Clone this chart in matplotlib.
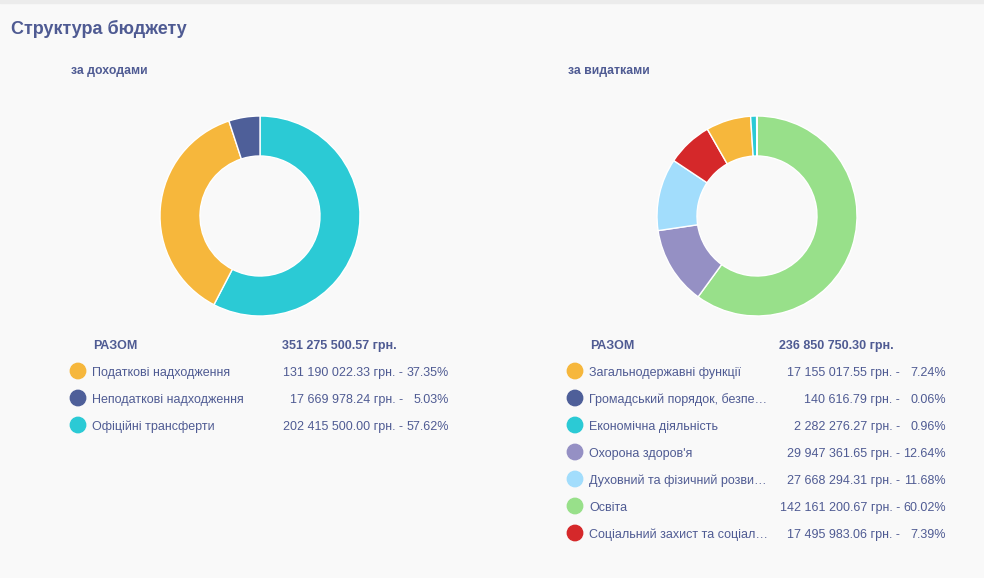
import matplotlib.pyplot as plt
from matplotlib.patches import Rectangle, Circle

# дані
income_labels = ["Податкові надходження", "Неподаткові надходження", "Офіційні трансферти"]
income_values = [131190022.33, 17669978.24, 202415500.00]
income_pct = [37.35, 5.03, 57.62]
income_colors = ["#f6b73c", "#4e5f99", "#2bcad5"]
income_total = "351 275 500.57 грн."

exp_labels = ["Загальнодержавні функції", "Громадський порядок, безпе…", "Економічна діяльність",
              "Охорона здоров'я", "Духовний та фізичний розви…", "Освіта",
              "Соціальний захист та соціал…"]
exp_values = [17155017.55, 140616.79, 2282276.27, 29947361.65, 27668294.31, 142161200.67, 17495983.06]
exp_pct = [7.24, 0.06, 0.96, 12.64, 11.68, 60.02, 7.39]
exp_colors = ["#f6b73c", "#4e5f99", "#2bcad5", "#9590c4", "#a2ddfc", "#98e08a", "#d5282a"]
exp_total = "236 850 750.30 грн."

W, H = 984, 578
TXT = "#4f5b93"
FS = 9
BASE = 5  # зсув базової лінії від центру рядка, px
plt.rcParams['font.family'] = ['Liberation Sans', 'DejaVu Sans']

fig = plt.figure(figsize=(W / 100, H / 100), dpi=100, facecolor="#f9f9f9")
renderer = fig.canvas.get_renderer()

# тінь зверху
fig.patches.append(Rectangle((0, 1 - 3 / H), 1, 3 / H, transform=fig.transFigure,
                             color="#ececec", zorder=0))


def fx(x):
    return x / W


def fy(y):
    return 1 - y / H


def put(x, y, s, **kw):
    # текст у пікселях від верхнього лівого кута
    return fig.text(x, H - y, s, transform=None, color=TXT, fontsize=FS, va="baseline", **kw)


def fmt_money(v):
    s = f"{v:,.2f}".replace(",", " ")
    return s + " грн. -"


def donut(cx, cy, r, values, colors):
    ax = fig.add_axes([fx(cx - r), fy(cy + r), 2 * r / W, 2 * r / H])
    order = sorted(range(len(values)), key=lambda i: -values[i])
    ax.pie([values[i] for i in order], colors=[colors[i] for i in order],
           startangle=90, counterclock=False, radius=1,
           wedgeprops=dict(width=0.4, edgecolor="white", linewidth=1))
    ax.set_xlim(-1, 1)
    ax.set_ylim(-1, 1)
    ax.set_aspect("equal")
    ax.axis("off")


def legend(x_marker, x_total, x_pct, labels, values, pcts, colors, total):
    y = 344 + BASE
    put(x_marker + 15, y, "РАЗОМ", fontweight="bold")
    put(x_total, y, total, fontweight="bold")
    pct_texts = []
    for i, lab in enumerate(labels):
        yy = 371 + 27 * i
        # кружок у пікселях (dpi=100)
        fig.patches.append(Circle((x_marker / 100, (H - yy) / 100), 0.077,
                                  transform=fig.dpi_scale_trans, color=colors[i]))
        yb = yy + BASE
        put(x_marker + 14, yb, lab)
        pct_texts.append(put(x_pct, yb, f"{pcts[i]:.2f}%", ha="right"))
    # колонка сум: одразу ліворуч від найширшого відсотка
    wmax = max(t.get_window_extent(renderer).width for t in pct_texts)
    x_amount = x_pct - wmax - 3.5
    for i in range(len(labels)):
        put(x_amount, 371 + 27 * i + BASE, fmt_money(values[i]), ha="right")


fig.text(fx(11), fy(29), "Структура бюджету", fontsize=13, fontweight="bold",
         color=TXT, va="center")
fig.text(fx(71), fy(71), "за доходами", fontsize=8.8, fontweight="bold", color=TXT, va="center")
fig.text(fx(568), fy(71), "за видатками", fontsize=8.8, fontweight="bold", color=TXT, va="center")

donut(260, 216, 100, income_values, income_colors)
donut(757, 216, 100, exp_values, exp_colors)

legend(78, 282, 449, income_labels, income_values, income_pct, income_colors, income_total)
legend(575, 779, 946, exp_labels, exp_values, exp_pct, exp_colors, exp_total)

fig.savefig("out.png", dpi=100, facecolor=fig.get_facecolor())
